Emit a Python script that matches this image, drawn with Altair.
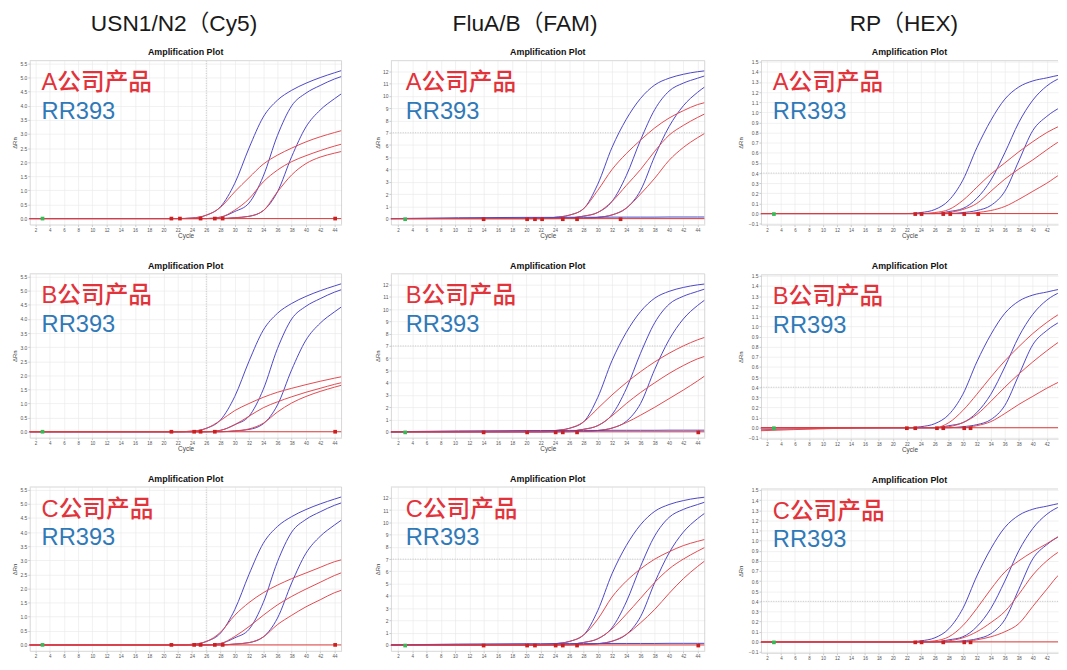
import altair as alt
import pandas as pd

# ---------------- data ----------------
CYCLES = [1, 20, 22, 24, 26, 28, 30, 32, 34, 36, 38, 40, 42, 44, 45]
X_TICKS = [2, 4, 6, 8, 10, 12, 14, 16, 18, 20, 22, 24, 26, 28, 30, 32, 34, 36, 38, 40, 42, 44]

HEADERS = ["USN1/N2（Cy5)", "FluA/B（FAM)", "RP（HEX)"]
COMPANIES = ["A公司产品", "B公司产品", "C公司产品"]
KIT = "RR393"
PLOT_TITLE = "Amplification Plot"

CY5_TICKS = [0.0, 0.5, 1.0, 1.5, 2.0, 2.5, 3.0, 3.5, 4.0, 4.5, 5.0, 5.5]
FAM_TICKS = [0, 1, 2, 3, 4, 5, 6, 7, 8, 9, 10, 11, 12]
HEX_TICKS = [-0.1, 0.0, 0.1, 0.2, 0.3, 0.4, 0.5, 0.6, 0.7, 0.8, 0.9, 1.0, 1.1, 1.2, 1.3, 1.4, 1.5]

# USN1/N2 (Cy5)
cy5_rr393 = [
    [0, 0, 0.0, 0.02, 0.12, 0.42, 1.25, 2.5, 3.6, 4.2, 4.55, 4.8, 5.0, 5.17, 5.25],
    [0, 0, 0, 0, 0.0, 0.05, 0.25, 0.55, 1.5, 2.95, 4.0, 4.45, 4.72, 4.95, 5.04],
    [0, 0, 0, 0, 0, 0.0, 0.03, 0.08, 0.28, 0.95, 2.2, 3.25, 3.85, 4.25, 4.43],
]
cy5_a = [
    [0, 0, 0.0, 0.02, 0.12, 0.4, 0.95, 1.45, 1.93, 2.25, 2.5, 2.72, 2.9, 3.05, 3.12],
    [0, 0, 0, 0, 0.0, 0.05, 0.3, 0.7, 1.3, 1.72, 2.02, 2.23, 2.41, 2.57, 2.64],
    [0, 0, 0, 0, 0, 0.0, 0.03, 0.08, 0.28, 0.95, 1.55, 1.95, 2.18, 2.32, 2.38],
]
cy5_b = [
    [0, 0, 0.0, 0.02, 0.12, 0.4, 0.75, 1.0, 1.22, 1.4, 1.54, 1.67, 1.79, 1.9, 1.95],
    [0, 0, 0, 0, 0.0, 0.05, 0.25, 0.55, 0.85, 1.06, 1.24, 1.4, 1.54, 1.68, 1.74],
    [0, 0, 0, 0, 0, 0.0, 0.03, 0.1, 0.3, 0.7, 1.02, 1.25, 1.43, 1.58, 1.65],
]
cy5_c = [
    [0, 0, 0.0, 0.02, 0.12, 0.45, 1.05, 1.5, 1.85, 2.12, 2.35, 2.55, 2.75, 2.95, 3.02],
    [0, 0, 0, 0, 0.0, 0.05, 0.3, 0.65, 1.05, 1.42, 1.72, 1.98, 2.22, 2.46, 2.56],
    [0, 0, 0, 0, 0, 0.0, 0.03, 0.08, 0.28, 0.72, 1.05, 1.35, 1.6, 1.85, 1.94],
]
cy5_marks = [
    [21.1, 22.3, 25.2, 27.2, 28.3, 44.1],
    [21.1, 24.3, 25.2, 27.2, 44.1],
    [21.1, 24.3, 25.2, 27.2, 28.3, 44.1],
]

# FluA/B (FAM)
fam_rr393 = [
    [0, 0.02, 0.03, 0.1, 0.28, 0.8, 2.8, 5.8, 8.1, 9.8, 10.9, 11.45, 11.77, 11.98, 12.05],
    [0, 0.0, 0.0, 0.02, 0.05, 0.2, 0.5, 1.4, 3.5, 6.4, 8.9, 10.4, 11.05, 11.45, 11.64],
    [0, 0, 0, 0, 0.01, 0.03, 0.1, 0.3, 0.85, 2.3, 5.1, 7.5, 9.2, 10.3, 10.74],
]
fam_a = [
    [0, 0.02, 0.03, 0.1, 0.28, 0.8, 2.3, 4.0, 5.3, 6.4, 7.4, 8.2, 8.8, 9.3, 9.46],
    [0, 0, 0, 0.02, 0.05, 0.2, 0.5, 1.4, 2.7, 4.0, 5.5, 6.8, 7.6, 8.25, 8.54],
    [0, 0, 0, 0, 0.01, 0.03, 0.1, 0.3, 0.85, 2.0, 3.3, 4.75, 5.8, 6.6, 6.95],
]
fam_b = [
    [0, 0.02, 0.03, 0.1, 0.28, 0.8, 1.9, 3.0, 4.0, 4.9, 5.7, 6.4, 7.0, 7.5, 7.7],
    [0, 0, 0, 0.02, 0.05, 0.2, 0.5, 1.3, 2.3, 3.2, 4.0, 4.75, 5.4, 5.95, 6.15],
    [0, 0, 0, 0, 0.01, 0.03, 0.1, 0.3, 0.75, 1.35, 2.0, 2.7, 3.4, 4.15, 4.55],
]
fam_c = [
    [0, 0.02, 0.03, 0.1, 0.28, 0.8, 2.1, 3.9, 5.2, 6.2, 7.0, 7.6, 8.1, 8.45, 8.6],
    [0, 0, 0, 0.02, 0.05, 0.2, 0.5, 1.3, 2.5, 3.8, 5.1, 6.2, 7.0, 7.65, 7.95],
    [0, 0, 0, 0, 0.01, 0.03, 0.1, 0.3, 0.85, 1.8, 2.9, 4.2, 5.4, 6.4, 6.85],
]
fam_negative = [0.0, 0.1, 0.1, 0.1, 0.11, 0.11, 0.11, 0.12, 0.12, 0.12, 0.12, 0.13, 0.13, 0.13, 0.13]
fam_marks = [
    [14.0, 20.1, 21.2, 22.2, 25.1, 27.1, 33.2],
    [14.0, 20.1, 24.1, 25.1, 27.1, 44.1],
    [14.0, 20.1, 21.2, 24.1, 25.1, 27.1, 44.1],
]

# RP (HEX)
hex_rr393 = [
    [0, 0.0, 0.0, 0.01, 0.04, 0.13, 0.33, 0.65, 0.92, 1.13, 1.25, 1.31, 1.34, 1.37, 1.38],
    [0, 0, 0, 0, 0.0, 0.02, 0.05, 0.15, 0.33, 0.6, 0.9, 1.12, 1.26, 1.34, 1.36],
    [0, 0, 0, 0, 0, 0.0, 0.01, 0.03, 0.08, 0.22, 0.52, 0.82, 0.96, 1.05, 1.08],
]
hex_a = [
    [0, 0, 0, 0.0, 0.01, 0.04, 0.13, 0.26, 0.39, 0.5, 0.61, 0.71, 0.8, 0.87, 0.9],
    [0, 0, 0, 0, 0.0, 0.01, 0.04, 0.1, 0.22, 0.34, 0.44, 0.53, 0.63, 0.72, 0.75],
    [0, 0, 0, 0, 0, 0.0, 0.0, 0.01, 0.03, 0.07, 0.14, 0.22, 0.3, 0.39, 0.42],
]
hex_b = [
    [-0.03, 0, 0, 0.0, 0.0, 0.05, 0.17, 0.33, 0.5, 0.66, 0.8, 0.93, 1.04, 1.13, 1.16],
    [0, 0, 0, 0, 0, 0.01, 0.05, 0.13, 0.26, 0.4, 0.53, 0.65, 0.76, 0.86, 0.9],
    [-0.02, 0, 0, 0, 0, 0, 0.0, 0.02, 0.06, 0.14, 0.23, 0.31, 0.39, 0.46, 0.49],
]
hex_c = [
    [0, 0, 0, 0, 0.01, 0.05, 0.16, 0.33, 0.52, 0.69, 0.8, 0.89, 0.97, 1.05, 1.07],
    [0, 0, 0, 0, 0, 0.01, 0.04, 0.1, 0.19, 0.3, 0.47, 0.66, 0.8, 0.9, 0.93],
    [0, 0, 0, 0, 0, 0, 0.0, 0.02, 0.05, 0.1, 0.18, 0.35, 0.52, 0.68, 0.72],
]
hex_marks = [
    [23.2, 24.1, 27.2, 28.2, 30.2, 32.2],
    [22.0, 23.2, 26.3, 27.2, 30.2, 31.1],
    [23.2, 24.1, 27.2, 30.2, 31.1],
]
START_MARK = [3.0]

# ---------------- styling ----------------
BLUE = "#4b45c6"
RED = "#e2484e"
TEXT_RED = "#e2333b"
TEXT_BLUE = "#2f79b8"
FRAME = "#cccccc"
FONT = "Liberation Sans, Noto Sans CJK SC, sans-serif"

PLOT_H = 166
SETUP = [
    dict(kit=cy5_rr393, comp=[cy5_a, cy5_b, cy5_c], neg=None, marks=cy5_marks, mark_y=0.0,
         ydom=[-0.21, 5.6], ticks=CY5_TICKS, fmt=".1f", xdom=[1.2, 45.0], width=316,
         major=("x", 26), title_pad=2, dx=-3, text_x=12, right=True),
    dict(kit=fam_rr393, comp=[fam_a, fam_b, fam_c], neg=fam_negative, marks=fam_marks, mark_y=-0.05,
         ydom=[-0.48, 12.88], ticks=FAM_TICKS, fmt="d", xdom=[1.0, 45.0], width=318,
         major=("y", 7), title_pad=2, dx=-15, text_x=15, right=True),
    dict(kit=hex_rr393, comp=[hex_a, hex_b, hex_c], neg=None, marks=hex_marks, mark_y=-0.005,
         ydom=[-0.108, 1.51], ticks=HEX_TICKS, fmt=".1f", xdom=[1.15, 43.6], width=301,
         major=("y", 0.4), title_pad=5, dx=6, text_x=12, right=False),
]


def panel(col, row):
    s = SETUP[col]
    W = s["width"]
    recs = []
    for i, vals in enumerate(s["kit"]):
        for c, v in zip(CYCLES, vals):
            recs.append({"cycle": c, "value": v, "curve": f"k{i}", "kind": "kit"})
    for i, vals in enumerate(s["comp"][row]):
        for c, v in zip(CYCLES, vals):
            recs.append({"cycle": c, "value": v, "curve": f"c{i}", "kind": "company"})
    if s["neg"] is not None:
        for c, v in zip(CYCLES, s["neg"]):
            recs.append({"cycle": c, "value": v, "curve": "neg", "kind": "kit"})
    df = pd.DataFrame(recs)

    x_axis = alt.Axis(values=X_TICKS, title="Cycle" if row < 2 else None, labelFontSize=4.5,
                      titleFontSize=6.5, labelOverlap=False, titlePadding=1, labelFlush=False)
    y_axis = alt.Axis(values=s["ticks"], format=s["fmt"], title="ΔRn", labelOverlap=False,
                      titlePadding=s["title_pad"])
    X = alt.X("cycle:Q", scale=alt.Scale(domain=s["xdom"], nice=False, zero=False), axis=x_axis)
    Y = alt.Y("value:Q", scale=alt.Scale(domain=s["ydom"], nice=False, zero=False), axis=y_axis)

    one = pd.DataFrame({"d": [0]})
    layers = []
    kind, pos = s["major"]
    if kind == "x":
        layers.append(alt.Chart(pd.DataFrame({"cycle": [pos]})).mark_rule(
            color="#b0b0b0", strokeWidth=0.7, strokeDash=[1, 1.5]).encode(x=X))
    else:
        layers.append(alt.Chart(pd.DataFrame({"value": [pos]})).mark_rule(
            color="#b0b0b0", strokeWidth=0.7, strokeDash=[1, 1.5]).encode(y=Y))

    lines = alt.Chart(df).mark_line(interpolate="monotone", strokeWidth=1, clip=True).encode(
        x=X, y=Y, detail="curve:N",
        color=alt.Color("kind:N", scale=alt.Scale(domain=["kit", "company"], range=[BLUE, RED]),
                        legend=None),
    )
    thr = alt.Chart(pd.DataFrame({"value": [0.0]})).mark_rule(color="#e23a3a", strokeWidth=1).encode(y=Y)
    mk = alt.Chart(pd.DataFrame({"cycle": s["marks"][row], "value": [s["mark_y"]] * len(s["marks"][row])})
                   ).mark_point(shape="square", filled=True, size=14, color="#cc1f1f", opacity=1).encode(
        x=X, y=Y)
    st = alt.Chart(pd.DataFrame({"cycle": START_MARK, "value": [s["mark_y"]]})).mark_point(
        shape="square", filled=True, size=14, color="#33bb55", opacity=1).encode(x=X, y=Y)
    top = alt.Chart(one).mark_rule(color=FRAME, strokeWidth=0.8).encode(
        x=alt.value(0), x2=alt.value(W), y=alt.value(0))
    layers += [lines, thr, mk, st, top]
    if s["right"]:
        layers.append(alt.Chart(one).mark_rule(color=FRAME, strokeWidth=0.8).encode(
            x=alt.value(W), y=alt.value(0), y2=alt.value(PLOT_H)))
    t1 = alt.Chart(pd.DataFrame({"t": [COMPANIES[row]]})).mark_text(
        align="left", baseline="alphabetic", fontSize=24, font=FONT, fontWeight=500,
        color=TEXT_RED).encode(text="t:N", x=alt.value(s["text_x"]), y=alt.value(30))
    t2 = alt.Chart(pd.DataFrame({"t": [KIT]})).mark_text(
        align="left", baseline="alphabetic", fontSize=24, font=FONT, fontWeight=500,
        color=TEXT_BLUE).encode(text="t:N", x=alt.value(s["text_x"]), y=alt.value(59))
    layers += [t1, t2]

    return alt.layer(*layers).properties(
        width=W, height=PLOT_H,
        title=alt.TitleParams(PLOT_TITLE, fontSize=9, fontWeight="bold", offset=3, color="#111"),
    )


columns = []
for col in range(3):
    columns.append(alt.vconcat(
        *[panel(col, r) for r in range(3)], spacing=21,
        title=alt.TitleParams(HEADERS[col], fontSize=23, fontWeight="normal", color="#1a1a1a",
                              anchor="middle", offset=10, dx=SETUP[col]["dx"], dy=-2),
    ))

chart = alt.hconcat(*columns, spacing=31).properties(
    padding={"left": 3, "top": 0, "right": 0, "bottom": 0}
).configure(font=FONT).configure_axis(
    labelFontSize=5, labelColor="#555", tickSize=2, tickColor="#aaa", tickWidth=0.6,
    domainColor=FRAME, domainWidth=0.8, gridColor="#e8e8e8", gridWidth=0.6,
    titleFontSize=6, titleFontWeight="normal", titleColor="#444", labelPadding=1,
    labelOverlap=False,
).configure_view(stroke="transparent").configure_title(font=FONT)

chart.save("out.html", embed_options={"renderer": "svg", "actions": False})
